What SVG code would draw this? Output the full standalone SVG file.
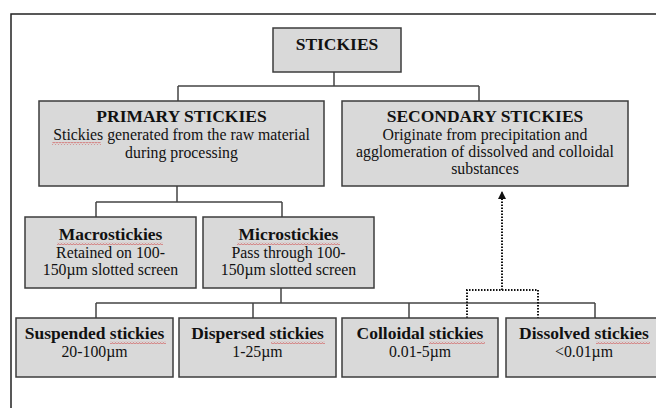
<svg xmlns="http://www.w3.org/2000/svg" width="656" height="408" viewBox="0 0 656 408">
<defs>
<style>
.box{fill:#d9d9d9;stroke:#3c3c3c;stroke-width:1.5}
.t{font-family:"Liberation Serif","Times New Roman",serif;font-weight:bold;font-size:17.5px;fill:#111;text-anchor:middle}
.b{font-family:"Liberation Serif","Times New Roman",serif;font-size:15.8px;fill:#111;text-anchor:middle}
.c{fill:none;stroke:#444;stroke-width:1.5}
.d{fill:none;stroke:#111;stroke-width:2;stroke-dasharray:1.5 1.5}
.sq{fill:url(#squig)}
.frame{fill:none;stroke:#222;stroke-width:1.5}
</style>
<pattern id="squig" width="3" height="3" patternUnits="userSpaceOnUse"><path d="M0 2.4 L1.5 0.6 L3 2.4" fill="none" stroke="#d04545" stroke-width="0.7"/></pattern>
<marker id="arr" viewBox="0 0 8 8" refX="8" refY="4" markerWidth="9" markerHeight="8" markerUnits="userSpaceOnUse" orient="auto"><path d="M0 0 L8 4 L0 8 z" fill="#111"/></marker>
</defs>
<rect width="656" height="408" fill="#fff"/>
<path class="frame" d="M11 408 V14 H656"/>

<g id="connectors">
<path class="c" d="M334 72 V86 M178 86 H479 M178 86 V101 M479 86 V101"/>
<path class="c" d="M177 186 V202 M96 202 H282 M96 202 V217 M282 202 V217"/>
<path class="c" d="M281 288 V303 M96 303 H595 M96 303 V318 M253 303 V318 M409 303 V318 M595 303 V318"/>
<path class="d" d="M467 318 V290 H538 V318"/>
<path class="d" d="M502 290 V191" marker-end="url(#arr)"/>
</g>

<g id="stickies">
<rect class="box" x="273" y="28" width="128" height="44"/>
<text class="t" x="337" y="50">STICKIES</text>
</g>

<g id="primary">
<rect class="box" x="39" y="101" width="285" height="85"/>
<text class="t" x="181.5" y="122">PRIMARY STICKIES</text>
<text class="b" x="181.5" y="140">Stickies generated from the raw material</text>
<text class="b" x="181.5" y="158">during processing</text>
<rect class="sq" x="52" y="142" width="49" height="3"/>
</g>

<g id="secondary">
<rect class="box" x="342" y="101" width="286" height="85"/>
<text class="t" x="485" y="122">SECONDARY STICKIES</text>
<text class="b" x="485" y="140">Originate from precipitation and</text>
<text class="b" x="485" y="157">agglomeration of dissolved and colloidal</text>
<text class="b" x="485" y="174">substances</text>
</g>

<g id="macro">
<rect class="box" x="25" y="217" width="171" height="71"/>
<text class="t" x="110.5" y="240">Macrostickies</text>
<text class="b" x="110.5" y="258">Retained on 100-</text>
<text class="b" x="110.5" y="275">150µm slotted screen</text>
<rect class="sq" x="57" y="242" width="106" height="3"/>
</g>

<g id="micro">
<rect class="box" x="203" y="217" width="171" height="71"/>
<text class="t" x="288.5" y="240">Microstickies</text>
<text class="b" x="288.5" y="258">Pass through 100-</text>
<text class="b" x="288.5" y="275">150µm slotted screen</text>
<rect class="sq" x="237" y="242" width="103" height="3"/>
</g>

<g id="suspended">
<rect class="box" x="16" y="318" width="157" height="59"/>
<text class="t" x="94.5" y="339">Suspended stickies</text>
<text class="b" x="94.5" y="357">20-100µm</text>
<rect class="sq" x="110" y="341" width="56" height="3"/>
</g>

<g id="dispersed">
<rect class="box" x="179" y="318" width="157" height="59"/>
<text class="t" x="257.5" y="339">Dispersed stickies</text>
<text class="b" x="257.5" y="357">1-25µm</text>
<rect class="sq" x="271" y="341" width="54" height="3"/>
</g>

<g id="colloidal">
<rect class="box" x="342" y="318" width="156" height="59"/>
<text class="t" x="420" y="339">Colloidal stickies</text>
<text class="b" x="420" y="357">0.01-5µm</text>
<rect class="sq" x="429" y="341" width="56" height="3"/>
</g>

<g id="dissolved">
<rect class="box" x="506" y="318" width="156" height="59"/>
<text class="t" x="584" y="339">Dissolved stickies</text>
<text class="b" x="584" y="357">&lt;0.01µm</text>
<rect class="sq" x="596" y="341" width="54" height="3"/>
</g>
</svg>
